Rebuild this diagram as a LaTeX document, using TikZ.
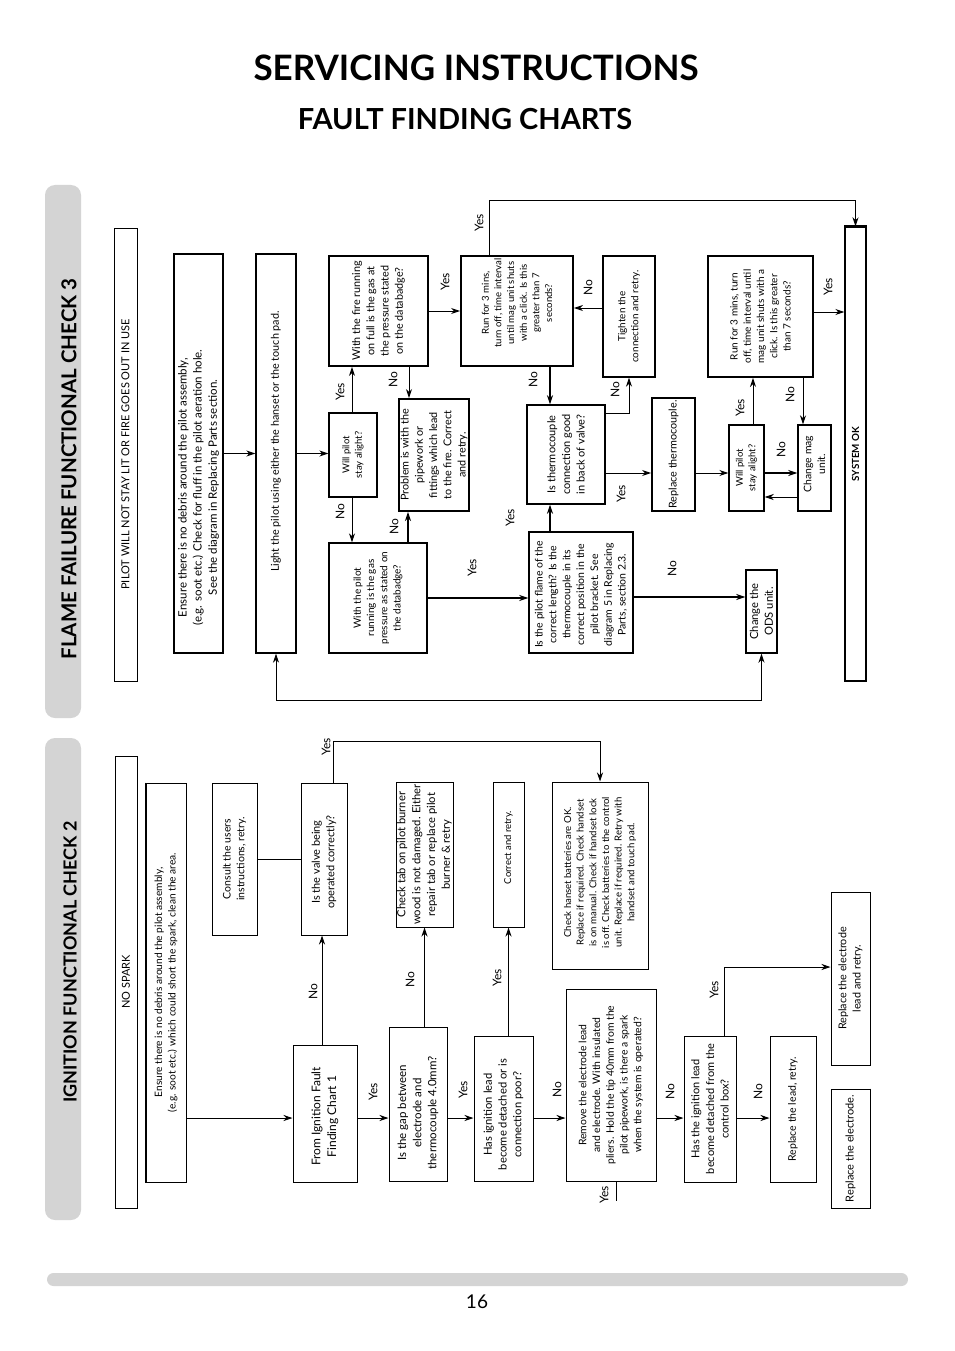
\documentclass[tikz,border=0pt]{standalone}
\usepackage{fontspec}
\setmainfont{Lato}
\usetikzlibrary{arrows.meta,calc}
\definecolor{bandgray}{HTML}{D4D4D4}
\newcommand\lblfont{\fontsize{12}{14}\selectfont}
% #1 style, #2 name, #3 x1, #4 y1, #5 x2, #6 y2, #7 text, #8 text offset (down), #9 font size
\newcommand\bx[9][]{%
  \node[box,#1,minimum width={(#5-#3)*1pt},minimum height={(#6-#4)*1pt}] (#2) at ({(#3+#5)/2},{(#4+#6)/2}) {};%
  \node[txt,font=\fontsize{#9}{\fpeval{1.32*#9}}\selectfont] (#2-t) at ($(#2.center)+(0,#8)$) {#7};}
\newcommand\lb[4]{\node[lbl] (#1) at (#2,#3) {#4};}
\begin{document}
\begin{tikzpicture}[x=1pt,y=-1pt,
  box/.style={draw,line width=1.4pt,inner sep=0pt,rectangle},
  thn/.style={line width=1pt},
  thk/.style={line width=1.9pt},
  txt/.style={rotate=90,align=center,inner sep=0pt},
  lbl/.style={rotate=90,inner sep=0pt,font=\lblfont},
  arr/.style={line width=1pt,-{Stealth[length=9pt,width=6pt]}},
  tarr/.style={line width=2pt,-{Stealth[length=9pt,width=6pt]}},
  ln/.style={line width=1pt},
  band/.style={fill=bandgray,draw=none,rounded corners=10pt}]
\useasboundingbox (0,0) rectangle (954,1351);
\fill[white] (0,0) rectangle (954,1351);

% titles
\node[font=\bfseries\fontsize{35}{40}\selectfont,inner sep=0pt] (title) at (476,68) {SERVICING INSTRUCTIONS};
\node[font=\bfseries\fontsize{29}{34}\selectfont,inner sep=0pt] (subtitle) at (465,119) {FAULT FINDING CHARTS};

% side bands
\fill[band] (45,185) rectangle (81,718);
\fill[band] (45,738) rectangle (81,1220);
\node[rotate=90,font=\bfseries\fontsize{20.5}{24}\selectfont,inner sep=0pt] (band1) at (69,469) {FLAME FAILURE FUNCTIONAL CHECK 3};
\node[rotate=90,font=\bfseries\fontsize{18}{21}\selectfont,inner sep=0pt] (band2) at (70,962) {IGNITION FUNCTIONAL CHECK 2};

% bottom bar and page number
\fill[bandgray,rounded corners=6.5pt] (47,1273) rectangle (908,1286);
\node[font=\fontsize{19}{22}\selectfont,inner sep=0pt] (page) at (477,1302) {16};

% ================= FLAME FAILURE CHART =================
\bx[thn]{A}{114}{228}{137}{681}{PILOT WILL NOT STAY LIT OR FIRE GOES OUT IN USE}{0}{11}
\bx{B}{174}{254}{223}{653}{Ensure there is no debris around the pilot assembly,\\(e.g. soot etc.) Check for fluff in the pilot aeration hole.\\See the diagram in Replacing Parts section.}{34}{11.5}
\bx{C}{256}{254}{296}{653}{Light the pilot using either the hanset or the touch pad.}{-12}{10.8}
\bx{WP1}{329}{413}{377}{497}{Will pilot\\stay alight?}{0}{9.5}
\bx[thk]{FR}{329}{256}{428}{366}{With the fire running\\on full is the gas at\\the pressure stated\\on the databadge?}{0}{10.8}
\bx[thk]{PR}{399}{399}{469}{511}{Problem is with the\\pipework or\\fittings which lead\\to the fire. Correct\\and retry.}{0}{10.8}
\bx{PG}{329}{543}{427}{653}{With the pilot\\running is the gas\\pressure as stated on\\the databadge?}{0}{10}
\bx[thk]{R1}{461}{256}{573}{366}{Run for 3 mins,\\turn off, time interval\\until mag unit shuts\\with a click. Is this\\greater than 7\\seconds?}{-8}{9.6}
\bx{TC}{527}{405}{605}{504}{Is thermocouple\\connection good\\in back of valve?}{0}{11}
\bx{PF}{529}{532}{633}{653}{Is the pilot flame of the\\correct length? Is the\\thermocouple in its\\correct position in the\\pilot bracket. See\\diagram 5 in Replacing\\Parts, section 2.3.}{2}{10.5}
\bx{TI}{603}{256}{655}{377}{Tighten the\\connection and retry.}{0}{9.9}
\bx[thk]{RT}{652}{398}{695}{511}{Replace thermocouple.}{0}{10.8}
\bx[thk]{R2}{708}{256}{813}{377}{Run for 3 mins, turn\\off, time interval until\\mag unit shuts with a\\click. Is this greater\\than 7 seconds?}{0}{10}
\bx{WP2}{729}{425}{764}{511}{Will pilot\\stay alight?}{0}{9.5}
\bx{CM}{798}{425}{831}{511}{Change mag\\unit.}{-4}{10.4}
\bx{OK}{845}{227}{866}{681}{\bfseries SYSTEM OK}{0}{9.8}
\bx{ODS}{746}{570}{777}{653}{Change the\\ODS unit.}{0}{11.2}
\draw[thk] (OK.north west) -- (OK.north east);

% connectors
\draw[arr] (B.east) -- (C.west);
\draw[arr] (C.east) -- (C.east -| WP1.west);
\draw[arr] (WP1.north -| 352,0) -- (FR.south -| 352,0);
\draw[arr] (WP1.south -| 352,0) -- (PG.north -| 352,0);
\draw[arr] (FR.south -| 409,0) -- (PR.north -| 409,0);
\draw[tarr] (PG.north -| 408,0) -- (PR.south -| 408,0);
\draw[arr] (FR.east) -- (R1.west);
\draw[tarr] (PG.east) -- (PG.east -| PF.west);
\draw[tarr] (R1.south -| 550,0) -- (TC.north -| 550,0);
\draw[tarr] (PF.north -| 550,0) -- (TC.south -| 550,0);
\draw[arr] (TC.east |- 0,413) -| (TI.south);
\draw[arr] (TI.west |- 0,308) -- (R1.east |- 0,308);
\draw[arr] (TC.east |- 0,473) -- (RT.west |- 0,473);
\draw[arr] (RT.east |- 0,473) -- (WP2.west |- 0,473);
\draw[arr] (WP2.north -| 753,0) -- (R2.south -| 753,0);
\draw[tarr] (WP2.east |- 0,473) -- (CM.west |- 0,473);
\draw[arr] (CM.west |- 0,497) -- (WP2.east |- 0,497);
\draw[arr] (R2.south -| 803,0) -- (CM.north -| 803,0);
\draw[arr] (R2.east |- 0,312) -- (OK.west |- 0,312);
\draw[arr] (R1.north -| 489,0) |- ($(OK.north)+(0,-26)$) -- (OK.north);
\draw[tarr] (PF.east |- 0,597) -- (ODS.west |- 0,597);
\draw[line width=1pt,{Stealth[length=9pt,width=6pt]}-{Stealth[length=9pt,width=6pt]}] (C.south) -- ++(0,47) -| (ODS.south);

% labels
\lb{l1}{340}{392}{Yes}
\lb{l2}{340}{512}{No}
\lb{l3}{393}{380}{No}
\lb{l4}{394}{527}{No}
\lb{l5}{445}{282}{Yes}
\lb{l6}{472}{568}{Yes}
\lb{l7}{533}{380}{No}
\lb{l8}{510}{518}{Yes}
\lb{l9}{615}{390}{No}
\lb{l10}{588}{288}{No}
\lb{l11}{621}{494}{Yes}
\lb{l12}{479}{223}{Yes}
\lb{l13}{740}{408}{Yes}
\lb{l14}{781}{450}{No}
\lb{l15}{790}{395}{No}
\lb{l16}{828}{287}{Yes}
\lb{l17}{672}{569}{No}

% ================= IGNITION CHART =================
\bx[thn]{NS}{115}{756}{137}{1208}{NO SPARK}{0}{11}
\bx[thn]{E2}{146}{783}{186}{1182}{Ensure there is no debris around the pilot assembly,\\(e.g. soot etc.) which could short the spark, clean the area.}{0}{10.2}
\bx[thn]{CU}{212}{783}{257}{935}{Consult the users\\instructions, retry.}{0}{10.5}
\bx[thn]{VO}{301}{783}{347}{935}{Is the valve being\\operated correctly?}{3}{11}
\bx[thn]{FI}{293}{1045}{357}{1182}{From Ignition Fault\\Finding Chart 1}{3}{12}
\bx[thn]{CT}{396}{782}{453}{927}{Check tab on pilot burner\\wood is not damaged. Either\\repair tab or replace pilot\\burner \& retry}{0}{11.2}
\bx[thn]{CR}{493}{782}{524}{927}{Correct and retry.}{-7}{9.5}
\bx[thn]{CH}{552}{782}{648}{969}{Check hanset batteries are OK.\\Replace if required. Check handset\\is on manual. Check if handset lock\\is off. Check batteries to the control\\unit. Replace if required. Retry with\\handset and touch pad.}{-3}{9.6}
\bx[thn]{GP}{389}{1027}{447}{1181}{Is the gap between\\electrode and\\thermocouple 4.0mm?}{9}{11.5}
\bx[thn]{IL}{474}{1036}{533}{1181}{Has ignition lead\\become detached or is\\connection poor?}{6}{11.2}
\bx[thn]{RE}{566}{989}{656}{1181}{Remove the electrode lead\\and electrode. With insulated\\pliers. Hold the tip 40mm from the\\pilot pipework, is there a spark\\when the system is operated?}{0}{10.4}
\bx[thn]{HD}{684}{1036}{736}{1182}{Has the ignition lead\\become detached from the\\control box?}{0}{11}
\bx[thn]{RL}{770}{1036}{816}{1182}{Replace the lead, retry.}{0}{10.5}
\bx[thn]{REL}{831}{892}{870}{1065}{Replace the electrode\\lead and retry.}{0}{10.8}
\bx[thn]{REP}{831}{1089}{870}{1208}{Replace the electrode.}{0}{11}
\draw[thk] (E2.north west) -- (E2.south west);
\draw[thk] (CU.north east) -- (CU.south east);
\draw[thk] (CR.north east) -- (CR.south east);
\draw[thk] (REP.north east) -- (REP.south east);

\coordinate (REend) at (616,1201);

% connectors
\draw[arr] (E2.east |- 0,1118) -- (FI.west |- 0,1118);
\draw[arr] (FI.north -| 322,0) -- (VO.south -| 322,0);
\draw[ln] (CU.east) -- (VO.west);
\draw[arr] (VO.north -| 333,0) |- ($(CH.north)+(0,-40)$) -- (CH.north);
\draw[arr] (FI.east |- 0,1118) -- (GP.west |- 0,1118);
\draw[arr] (GP.east |- 0,1118) -- (IL.west |- 0,1118);
\draw[arr] (IL.east |- 0,1118) -- (RE.west |- 0,1118);
\draw[arr] (RE.east |- 0,1118) -- (HD.west |- 0,1118);
\draw[arr] (HD.east |- 0,1118) -- (RL.west |- 0,1118);
\draw[arr] (GP.north -| CT.south) -- (CT.south);
\draw[arr] (IL.north -| CR.south) -- (CR.south);
\draw[arr] (HD.north -| 724,0) |- (REL.west |- 0,967);
\draw[ln] (RE.south -| REend) -- (REend);

% labels
\lb{m1}{326}{747}{Yes}
\lb{m2}{313}{992}{No}
\lb{m3}{373}{1092}{Yes}
\lb{m4}{463}{1090}{Yes}
\lb{m5}{557}{1090}{No}
\lb{m6}{410}{980}{No}
\lb{m7}{497}{978}{Yes}
\lb{m8}{604}{1195}{Yes}
\lb{m9}{670}{1092}{No}
\lb{m10}{758}{1092}{No}
\lb{m11}{714}{990}{Yes}
\end{tikzpicture}
\end{document}
